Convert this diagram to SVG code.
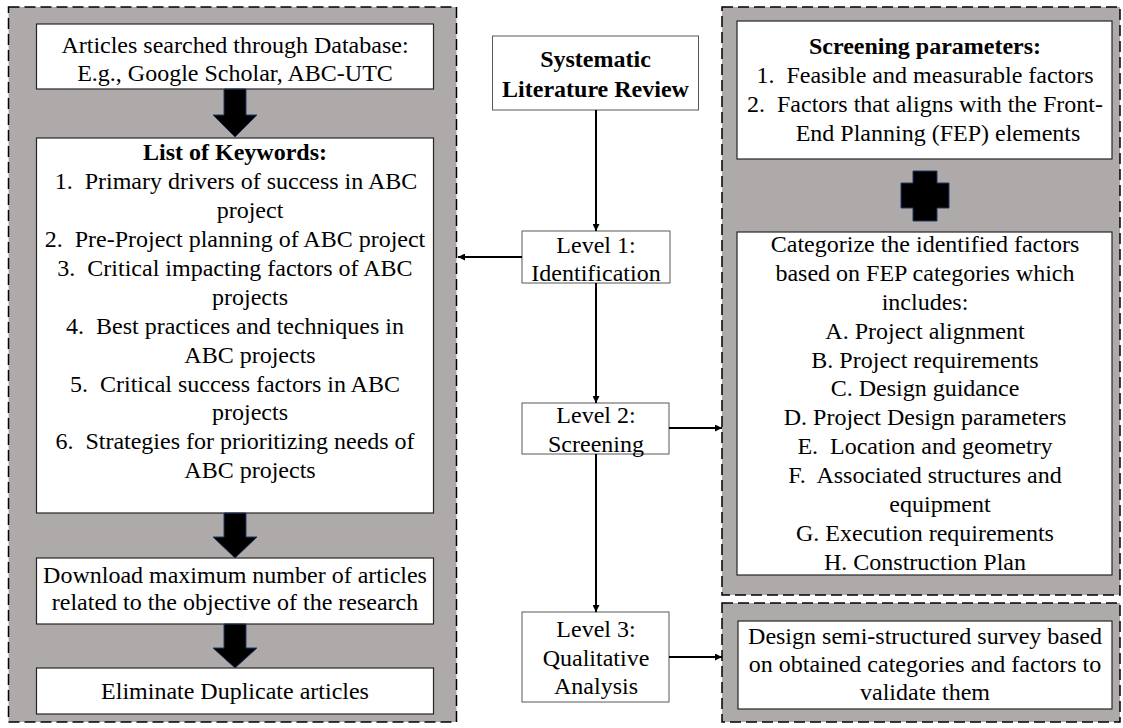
<svg xmlns="http://www.w3.org/2000/svg" width="1123" height="728" viewBox="0 0 1123 728">
<defs>
<style>
.panel{fill:#aeaaaa;stroke:#000;stroke-width:1.5;stroke-dasharray:11 5}
.wbox{fill:#fff;stroke:#262626;stroke-width:1.2}
.cbox{fill:#fff;stroke:#595959;stroke-width:1}
text{font-family:"Liberation Serif","Times New Roman",serif;font-size:24px;fill:#000;text-anchor:middle}
.b{font-weight:bold}
.big{fill:#000;stroke:#203864;stroke-width:1}
.conn{fill:none;stroke:#000;stroke-width:2}
</style>
<marker id="ah" viewBox="0 0 10 10" refX="10" refY="5" markerUnits="userSpaceOnUse" markerWidth="7" markerHeight="7" orient="auto">
<path d="M0,0 L10,5 L0,10 z" fill="#000"/>
</marker>
</defs>
<rect width="1123" height="728" fill="#fff"/>

<g id="left-panel">
<rect class="panel" x="8.5" y="7" width="448" height="715"/>
</g>
<g id="right-panel">
<rect class="panel" x="722" y="7" width="398" height="588"/>
</g>
<g id="bottom-panel">
<rect class="panel" x="722" y="603" width="398" height="119"/>
</g>

<g id="articles-searched">
<rect class="wbox" x="36.5" y="24" width="397" height="65"/>
<text x="235" y="53">Articles searched through Database:</text>
<text x="235" y="81">E.g., Google Scholar, ABC-UTC</text>
</g>
<g id="arrow-a1"><polygon class="big" points="224,89 246,89 246,115 257,115 235,137 213,115 224,115"/></g>

<g id="keywords">
<rect class="wbox" x="36.5" y="138" width="397" height="375"/>
<text class="b" x="235" y="160">List of Keywords:</text>
<text x="236" y="189">1.&#160; Primary drivers of success in ABC</text>
<text x="250" y="218">project</text>
<text x="235" y="247">2.&#160; Pre-Project planning of ABC project</text>
<text x="235" y="276">3.&#160; Critical impacting factors of ABC</text>
<text x="250" y="305">projects</text>
<text x="235" y="334">4.&#160; Best practices and techniques in</text>
<text x="250" y="363">ABC projects</text>
<text x="235" y="392">5.&#160; Critical success factors in ABC</text>
<text x="250" y="420">projects</text>
<text x="235" y="449">6.&#160; Strategies for prioritizing needs of</text>
<text x="250" y="478">ABC projects</text>
</g>
<g id="arrow-a2"><polygon class="big" points="224,513 246,513 246,537 257,537 235,558 213,537 224,537"/></g>

<g id="download">
<rect class="wbox" x="36.5" y="558" width="397" height="66"/>
<text x="235" y="583">Download maximum number of articles</text>
<text x="235" y="610">related to the objective of the research</text>
</g>
<g id="arrow-a3"><polygon class="big" points="224,624 246,624 246,648 257,648 235,668 213,648 224,648"/></g>

<g id="eliminate">
<rect class="wbox" x="36.5" y="668" width="397" height="46"/>
<text x="235" y="699">Eliminate Duplicate articles</text>
</g>

<g id="slr">
<rect class="cbox" x="492.5" y="36" width="206" height="74"/>
<text class="b" x="595.5" y="67">Systematic</text>
<text class="b" x="595.5" y="97">Literature Review</text>
</g>
<g id="level1">
<rect class="cbox" x="522" y="231" width="148" height="52"/>
<text x="596" y="253">Level 1:</text>
<text x="596" y="281">Identification</text>
</g>
<g id="level2">
<rect class="cbox" x="522" y="403" width="147" height="51"/>
<text x="596" y="423">Level 2:</text>
<text x="596" y="452">Screening</text>
</g>
<g id="level3">
<rect class="cbox" x="522" y="612" width="147" height="90"/>
<text x="596" y="637">Level 3:</text>
<text x="596" y="666">Qualitative</text>
<text x="596" y="694">Analysis</text>
</g>

<g id="screening-params">
<rect class="wbox" x="737" y="21" width="375" height="138"/>
<text class="b" x="925" y="54">Screening parameters:</text>
<text x="925" y="83">1.&#160; Feasible and measurable factors</text>
<text x="925" y="112">2.&#160; Factors that aligns with the Front-</text>
<text x="938" y="141">End Planning (FEP) elements</text>
</g>
<g id="plus"><polygon class="big" points="913,171 937,171 937,183 949,183 949,208 937,208 937,221 913,221 913,208 901,208 901,183 913,183"/></g>

<g id="categorize">
<rect class="wbox" x="737" y="232" width="375" height="343"/>
<text x="925" y="252">Categorize the identified factors</text>
<text x="925" y="281">based on FEP categories which</text>
<text x="925" y="310">includes:</text>
<text x="925" y="339">A. Project alignment</text>
<text x="925" y="368">B. Project requirements</text>
<text x="925" y="396">C. Design guidance</text>
<text x="925" y="425">D. Project Design parameters</text>
<text x="925" y="454">E.&#160; Location and geometry</text>
<text x="925" y="483">F.&#160; Associated structures and</text>
<text x="940" y="512">equipment</text>
<text x="925" y="541">G. Execution requirements</text>
<text x="925" y="570">H. Construction Plan</text>
</g>

<g id="survey">
<rect class="wbox" x="738" y="621" width="374" height="88"/>
<text x="925" y="644">Design semi-structured survey based</text>
<text x="925" y="672">on obtained categories and factors to</text>
<text x="925" y="700">validate them</text>
</g>

<g id="connectors">
<path class="conn" d="M596,110 V231" marker-end="url(#ah)"/>
<path class="conn" d="M596,283 V403" marker-end="url(#ah)"/>
<path class="conn" d="M596,454 V612" marker-end="url(#ah)"/>
<path class="conn" d="M522,257 H458" marker-end="url(#ah)"/>
<path class="conn" d="M669,428 H722" stroke-width="1.5" marker-end="url(#ah)"/>
<path class="conn" d="M669,657 H722" stroke-width="2.5" marker-end="url(#ah)"/>
</g>
</svg>
